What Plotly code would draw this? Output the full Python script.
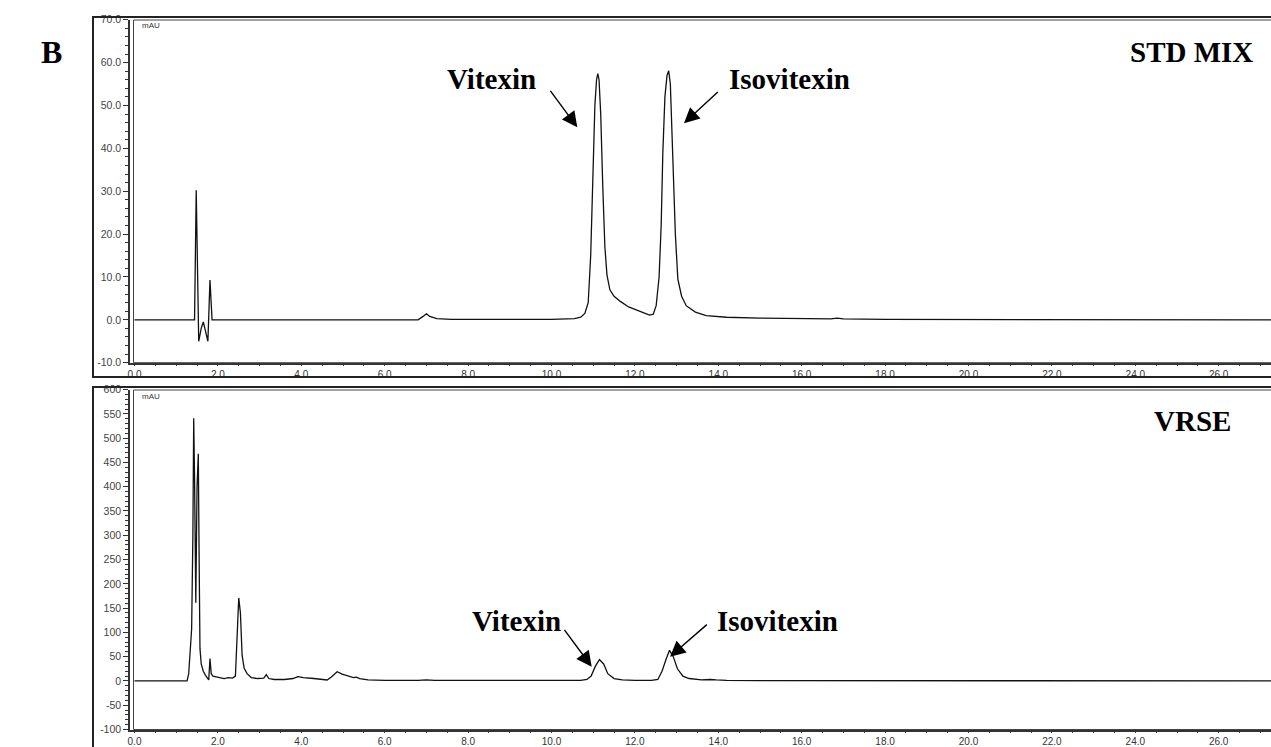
import plotly.graph_objects as go

# ---------------- data ----------------
t_std = [0.0, 1.44, 1.48, 1.54, 1.60, 1.65, 1.70, 1.76, 1.81, 1.86, 1.92, 6.80, 6.92, 7.00, 7.08, 7.25,
         7.60, 10.0, 10.55, 10.70, 10.80, 10.88, 10.94, 10.99, 11.04, 11.08, 11.11, 11.14, 11.18, 11.23,
         11.28, 11.33, 11.40, 11.50, 11.65, 11.85, 12.10, 12.35, 12.44, 12.51, 12.58, 12.63, 12.67, 12.72,
         12.77, 12.81, 12.85, 12.91, 12.97, 13.03, 13.12, 13.23, 13.45, 13.71, 14.2, 15.0, 16.0, 16.7,
         16.85, 17.0, 18.0, 27.3]
mau_std = [0.0, 0.0, 30.2, -5.0, -2.0, -0.5, -2.5, -5.0, 9.3, 0.0, 0.0, 0.0, 0.8, 1.4, 0.8, 0.3,
           0.1, 0.1, 0.3, 0.6, 1.5, 4.0, 15, 33, 50, 56, 57.4, 56, 48, 31,
           17, 10.5, 7.0, 5.5, 4.3, 3.0, 2.0, 1.1, 1.3, 3.3, 10, 22, 39, 52,
           57, 58.1, 55, 39, 20, 9.5, 5.5, 3.3, 1.8, 1.0, 0.6, 0.4, 0.25, 0.2,
           0.4, 0.2, 0.1, 0.0]

t_vrse = [0.0, 1.26, 1.30, 1.34, 1.37, 1.40, 1.42, 1.44, 1.47, 1.50, 1.53, 1.55, 1.57, 1.60, 1.65,
          1.70, 1.75, 1.78, 1.81, 1.84, 1.88, 1.95, 2.05, 2.15, 2.25, 2.35, 2.42, 2.46, 2.50, 2.54,
          2.58, 2.63, 2.70, 2.80, 2.95, 3.10, 3.16, 3.22, 3.35, 3.60, 3.80, 3.92, 4.05, 4.30, 4.50,
          4.62, 4.72, 4.86, 4.98, 5.12, 5.25, 5.32, 5.40, 5.60, 6.0, 6.8, 7.0, 7.2, 8.0, 9.0,
          10.0, 10.7, 10.85, 10.95, 11.05, 11.15, 11.25, 11.35, 11.5, 11.7, 12.0, 12.4, 12.55, 12.65,
          12.75, 12.83, 12.92, 13.02, 13.15, 13.3, 13.6, 13.8, 13.95, 14.2, 15.0, 18.0, 22.0, 27.3]
mau_vrse = [0, 0, 15, 60, 107, 300, 541, 420, 161, 400, 468, 250, 67, 35, 20,
            12, 4, 2, 46, 15, 10, 9, 7, 5, 7, 6, 10, 80, 171, 140,
            53, 26, 15, 7, 5, 6, 13, 5, 3, 3, 5, 9, 7, 5, 4,
            2, 8, 19, 14, 10, 7, 8, 5, 2, 1, 1, 2, 1, 1, 1,
            1, 1, 3, 10, 30, 44, 35, 15, 5, 2, 1, 1, 3, 20,
            45, 63, 50, 25, 10, 5, 2, 3, 2, 1, 0.5, 0.5, 0.5, 0.3]

x_ticks = [0, 2, 4, 6, 8, 10, 12, 14, 16, 18, 20, 22, 24, 26]
x_ticklabels = ["0.0", "2.0", "4.0", "6.0", "8.0", "10.0", "12.0", "14.0", "16.0", "18.0",
                "20.0", "22.0", "24.0", "26.0"]
y_std_ticks = [-10, 0, 10, 20, 30, 40, 50, 60, 70]
y_std_labels = ["-10.0", "0.0", "10.0", "20.0", "30.0", "40.0", "50.0", "60.0", "70.0"]
y_vrse_ticks = [-100, -50, 0, 50, 100, 150, 200, 250, 300, 350, 400, 450, 500, 550, 600]
y_vrse_labels = ["-100", "-50", "0", "50", "100", "150", "200", "250", "300", "350", "400",
                 "450", "500", "550", "600"]

# ---------------- layout helpers ----------------
W, H = 1271, 747
def px(x):
    return x / W
def py(y):
    return 1 - y / H

SERIF = "Liberation Serif, Times New Roman, serif"
SANS = "Liberation Sans, Arial, sans-serif"

fig = go.Figure()
fig.add_trace(go.Scatter(x=t_std, y=mau_std, mode="lines", line=dict(color="#111", width=1.3),
                         xaxis="x", yaxis="y", showlegend=False, hoverinfo="skip"))
fig.add_trace(go.Scatter(x=t_vrse, y=mau_vrse, mode="lines", line=dict(color="#111", width=1.3),
                         xaxis="x2", yaxis="y2", showlegend=False, hoverinfo="skip"))

x0_px, ppu = 134.5, 41.7
left_px = 130
xr = [(left_px - x0_px) / ppu, (left_px - x0_px) / ppu + (W - left_px) / ppu]

def xaxis_cfg(anchor):
    return dict(domain=[px(left_px), 1], range=xr, anchor=anchor, showgrid=False, zeroline=False,
                tickmode="array", tickvals=x_ticks, ticktext=x_ticklabels,
                ticks="outside", ticklen=2, tickwidth=1, tickcolor="#333",
                minor=dict(dtick=0.5, tick0=0, ticks="outside", ticklen=2, tickcolor="#333"),
                showline=True, linecolor="#333", linewidth=1.5,
                tickfont=dict(family=SANS, size=10, color="#333"))

def yaxis_cfg(anchor, dom, rng, vals, labels, minor):
    return dict(domain=dom, range=rng, anchor=anchor, showgrid=False, zeroline=False,
                tickmode="array", tickvals=vals, ticktext=labels,
                ticks="outside", ticklen=5, tickwidth=1, tickcolor="#333",
                minor=dict(dtick=minor, tick0=0, ticks="outside", ticklen=3, tickcolor="#333"),
                showline=True, linecolor="#333", linewidth=1.5,
                tickfont=dict(family=SANS, size=10.5, color="#444"))

BOT = 729.5
fig.update_layout(
    width=W, height=H, margin=dict(l=0, r=0, t=0, b=0, autoexpand=False),
    paper_bgcolor="white", plot_bgcolor="white",
    xaxis=xaxis_cfg("y"),
    yaxis=yaxis_cfg("x", [py(362.7), py(19.7)], [-10, 70], y_std_ticks, y_std_labels, 2),
    xaxis2=xaxis_cfg("y2"),
    yaxis2=yaxis_cfg("x2", [py(BOT), py(389.6)], [-100, 600], y_vrse_ticks, y_vrse_labels, 10),
)

shapes = [
    # outer frames
    dict(type="rect", xref="paper", yref="paper", x0=px(93), x1=px(1280), y0=py(377), y1=py(17),
         line=dict(color="#222", width=2)),
    dict(type="rect", xref="paper", yref="paper", x0=px(93), x1=px(1280), y0=py(760), y1=py(387),
         line=dict(color="#222", width=2)),
    # inner plot borders
    dict(type="rect", xref="paper", yref="paper", x0=px(133.5), x1=px(1280), y0=py(362.7), y1=py(20),
         line=dict(color="#444", width=1)),
    dict(type="rect", xref="paper", yref="paper", x0=px(133.5), x1=px(1280), y0=py(BOT), y1=py(390),
         line=dict(color="#444", width=1)),
]
fig.update_layout(shapes=shapes)

ann = []
def label(text, x, y, size=29):
    ann.append(dict(text="<b>" + text + "</b>", x=px(x), y=py(y), xref="paper", yref="paper",
                    showarrow=False, xanchor="center", yanchor="middle",
                    font=dict(family=SERIF, size=size, color="black")))

def arrow(tail, head):
    ann.append(dict(text="", x=px(head[0]), y=py(head[1]), xref="paper", yref="paper",
                    ax=tail[0] - head[0], ay=tail[1] - head[1], axref="pixel", ayref="pixel",
                    showarrow=True, arrowhead=2, arrowsize=2.2, arrowwidth=1.4, arrowcolor="black"))

label("B", 51, 52, 32)
label("STD MIX", 1191.5, 52)
label("VRSE", 1192.5, 421)
label("Vitexin", 491, 79)
label("Isovitexin", 789.5, 79)
label("Vitexin", 516, 621)
label("Isovitexin", 778, 621)
arrow((549.3, 89.3), (577.3, 127.3))
arrow((719.3, 90.7), (684.0, 123.3))
arrow((563.3, 628.3), (591.7, 666.7))
arrow((708.3, 623.3), (670.0, 656.7))

for ytop in (26, 396):
    ann.append(dict(text="mAU", x=px(140), y=py(ytop), xref="paper", yref="paper", showarrow=False,
                    xanchor="left", yanchor="middle", font=dict(family=SANS, size=8, color="#333")))

fig.update_layout(annotations=ann)
fig.write_html("out.html", config={"displayModeBar": False},
               post_script="document.body.style.margin='0';document.body.style.overflow='hidden';")
